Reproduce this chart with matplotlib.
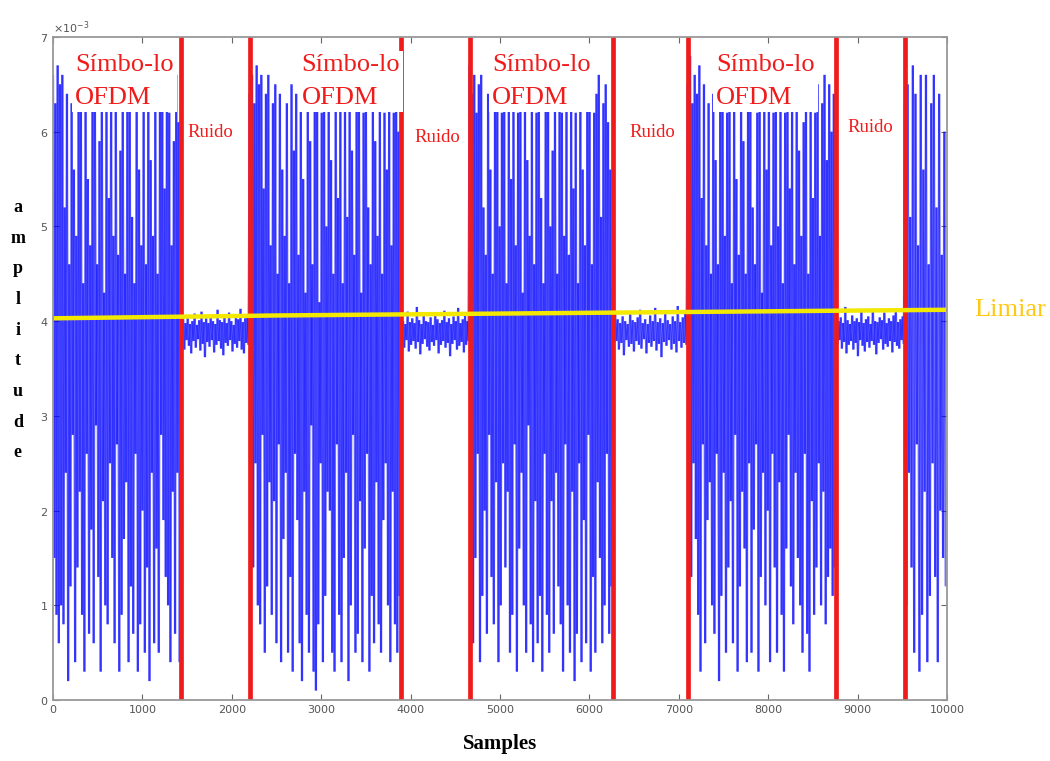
import numpy as np
import matplotlib
matplotlib.use("Agg")
import matplotlib.pyplot as plt
from matplotlib.collections import LineCollection
from matplotlib.ticker import ScalarFormatter, MultipleLocator

# segment limits (samples) - red lines sit on the inner ones
boundaries = [0, 1430, 2200, 3890, 4660, 6260, 7100, 8760, 9530, 10000]

# values, in units of 1e-3
ofdm1_peaks = [6.6, 6.3, 6.7, 6.5, 6.6, 5.2, 6.4, 4.6, 6.3, 5.6, 4.9, 6.5, 6.3, 4.4, 6.4, 5.5, 4.8, 6.3, 6.5, 4.6,
               5.9, 6.4, 4.3, 6.3, 5.3, 6.5, 4.9, 6.3, 4.7, 5.8, 6.4, 4.5, 6.3, 6.5, 5.1, 4.4, 6.4, 5.6, 4.8, 6.3,
               4.6, 6.5, 5.7, 4.9, 6.3, 4.5, 6.4, 6.3, 5.4, 6.6, 6.2, 4.8, 5.9, 6.6, 6.1]
ofdm1_dips = [1.5, 0.9, 0.6, 1.0, 0.8, 2.4, 0.2, 1.2, 2.8, 0.4, 1.4, 2.2, 0.9, 0.3, 2.6, 0.7, 1.8, 0.6, 2.9, 1.3,
              0.3, 2.1, 1.0, 0.8, 2.5, 1.5, 0.6, 2.7, 0.3, 0.9, 1.7, 2.3, 0.4, 1.2, 0.7, 2.6, 0.3, 0.8, 2.0, 0.5,
              1.4, 0.2, 2.4, 0.6, 1.6, 0.5, 2.8, 1.9, 1.3, 1.0, 0.4, 2.2, 0.7, 2.4, 0.4]
ofdm2_peaks = [6.4, 6.6, 6.3, 6.7, 6.5, 6.6, 5.4, 6.4, 6.6, 4.8, 6.3, 6.5, 4.5, 6.4, 5.6, 4.9, 6.3, 4.4, 6.5, 5.8,
               6.4, 4.7, 6.3, 5.5, 4.3, 6.4, 5.9, 4.6, 6.5, 6.3, 4.2, 6.2, 6.4, 5.0, 6.3, 5.7, 4.5, 6.5, 5.3, 6.4,
               4.4, 6.3, 5.1, 6.4, 5.8, 4.7, 6.3, 6.5, 4.3, 6.2, 6.4, 5.2, 4.6, 6.3, 5.9, 4.9, 6.3, 4.5, 6.2, 5.6,
               6.3, 4.8, 6.2, 6.4, 6.0]
ofdm2_dips = [0.7, 1.4, 2.5, 1.0, 0.8, 2.8, 0.5, 1.2, 2.3, 0.9, 2.1, 0.6, 2.7, 0.4, 1.7, 2.4, 0.5, 1.3, 0.3, 2.6,
              1.9, 0.6, 0.2, 2.2, 0.9, 0.5, 2.9, 0.3, 0.1, 0.8, 2.5, 0.4, 1.1, 2.2, 2.0, 0.5, 0.3, 2.7, 0.9, 0.4,
              1.5, 2.4, 0.2, 1.0, 2.8, 0.5, 0.7, 2.1, 0.4, 1.6, 2.6, 0.3, 1.1, 0.6, 2.3, 0.8, 0.5, 1.9, 2.5, 1.0,
              0.4, 2.2, 0.8, 0.5, 1.1]
ofdm3_peaks = [6.7, 6.4, 6.6, 6.2, 6.5, 6.6, 5.2, 4.7, 6.4, 5.6, 4.5, 6.3, 6.5, 5.0, 6.2, 6.4, 4.4, 6.3, 5.5, 6.5,
               4.8, 6.2, 6.4, 4.3, 6.3, 5.7, 4.9, 6.4, 4.6, 6.2, 6.5, 5.3, 4.4, 6.3, 6.4, 5.0, 5.8, 6.3, 4.5, 6.5,
               6.2, 4.9, 6.4, 4.7, 6.3, 5.4, 6.2, 4.4, 6.4, 5.6, 4.8, 6.3, 6.5, 4.6, 6.2, 6.4, 6.6, 5.1, 6.3, 6.5,
               6.1, 5.6]
ofdm3_dips = [1.2, 0.6, 1.5, 2.6, 0.4, 1.1, 2.0, 0.7, 2.8, 1.3, 0.8, 2.3, 0.4, 1.0, 2.5, 1.4, 2.2, 0.5, 0.9, 2.7,
              0.3, 1.6, 2.4, 1.0, 0.5, 2.9, 0.8, 0.4, 2.1, 0.6, 1.1, 0.3, 2.6, 0.9, 0.5, 2.1, 0.7, 2.4, 1.2, 0.8,
              0.3, 2.7, 1.0, 0.5, 2.2, 0.2, 0.7, 2.5, 0.4, 1.9, 0.6, 2.8, 0.3, 1.3, 0.5, 2.3, 1.5, 0.6, 1.0, 2.6,
              0.7, 1.2]
ofdm4_peaks = [6.5, 6.8, 6.3, 6.6, 6.4, 6.7, 5.3, 6.5, 4.8, 6.3, 4.5, 6.4, 5.7, 4.6, 6.3, 6.5, 4.9, 6.2, 6.4, 4.4,
               6.3, 5.5, 4.7, 6.4, 5.9, 4.5, 6.5, 6.3, 5.2, 4.6, 6.2, 6.4, 4.3, 6.3, 5.6, 6.5, 4.8, 6.2, 6.4, 5.0,
               6.3, 4.4, 6.2, 6.5, 5.4, 6.3, 4.6, 6.4, 5.8, 4.9, 6.1, 6.4, 4.5, 6.3, 5.3, 6.2, 6.5, 4.9, 6.3, 6.6,
               5.7, 6.5, 6.0, 6.4]
ofdm4_dips = [0.8, 1.3, 2.5, 1.7, 0.9, 0.3, 2.7, 0.6, 1.9, 2.3, 1.0, 0.7, 2.6, 0.2, 1.1, 2.4, 0.5, 1.4, 2.1, 0.6,
              2.8, 0.3, 1.2, 2.2, 1.6, 0.4, 2.5, 0.5, 1.8, 2.7, 0.3, 1.3, 2.4, 1.0, 2.0, 0.4, 2.6, 1.4, 0.5, 2.3,
              0.9, 0.3, 1.6, 2.8, 1.2, 0.8, 2.4, 1.5, 1.0, 0.5, 2.6, 0.7, 0.3, 2.1, 0.9, 1.4, 2.5, 1.0, 2.2, 0.8,
              1.3, 1.6, 1.1, 1.4]
ofdm5_peaks = [6.3, 6.5, 5.1, 6.7, 6.4, 4.8, 6.6, 5.6, 6.6, 4.6, 6.3, 6.6, 5.2, 6.4, 4.7, 6.0]
ofdm5_dips = [1.0, 2.4, 1.4, 0.5, 2.7, 0.3, 0.9, 2.2, 0.4, 1.1, 2.5, 1.3, 0.4, 2.0, 1.5, 1.2]

noise1_hi = [4.17, 4.02, 3.98, 4.05, 3.97, 4.00, 4.08, 3.96, 4.01, 4.10, 3.99, 4.03, 3.98, 4.06, 4.00,
             3.97, 4.12, 4.01, 3.99, 4.04, 3.98, 4.09, 4.00, 3.96, 4.05, 4.02, 4.13, 3.99, 4.03, 4.07]
noise1_lo = [3.78, 3.70, 3.80, 3.74, 3.66, 3.79, 3.72, 3.81, 3.69, 3.76, 3.62, 3.78, 3.73, 3.80, 3.67,
             3.75, 3.79, 3.71, 3.64, 3.77, 3.74, 3.80, 3.68, 3.76, 3.72, 3.79, 3.70, 3.66, 3.77, 3.75]
noise2_hi = [4.05, 4.00, 3.97, 4.10, 3.99, 4.03, 3.98, 4.15, 4.01, 3.97, 4.06, 4.00, 3.99, 4.04, 3.96,
             4.08, 4.02, 3.98, 4.01, 4.11, 3.99, 4.03, 3.97, 4.05, 4.00, 4.14, 3.98, 4.02, 4.06, 4.00]
noise2_lo = [3.77, 3.72, 3.80, 3.68, 3.75, 3.79, 3.71, 3.78, 3.65, 3.76, 3.81, 3.73, 3.69, 3.78, 3.74,
             3.80, 3.66, 3.75, 3.79, 3.72, 3.77, 3.63, 3.76, 3.80, 3.70, 3.74, 3.78, 3.67, 3.75, 3.79]
noise3_hi = [4.35, 4.10, 4.02, 3.98, 4.05, 4.00, 3.97, 4.09, 4.01, 3.99, 4.04, 4.12, 3.98, 4.02, 3.97,
             4.06, 4.00, 4.14, 3.99, 4.03, 3.98, 4.08, 4.01, 3.97, 4.05, 4.00, 4.16, 3.99, 4.04, 4.10]
noise3_lo = [3.74, 3.79, 3.70, 3.77, 3.64, 3.80, 3.73, 3.76, 3.68, 3.79, 3.75, 3.71, 3.81, 3.66, 3.77,
             3.73, 3.79, 3.69, 3.76, 3.62, 3.78, 3.74, 3.80, 3.70, 3.76, 3.67, 3.79, 3.72, 3.77, 3.75]
noise4_hi = [4.08, 4.00, 4.04, 3.98, 4.15, 4.01, 3.97, 4.06, 4.00, 4.03, 3.99, 4.10, 3.98, 4.02, 4.05,
             3.97, 4.13, 4.00, 3.99, 4.04, 4.01, 4.09, 3.98, 4.03, 4.00, 4.06, 4.12, 3.99, 4.02, 4.05]
noise4_lo = [3.76, 3.80, 3.71, 3.78, 3.66, 3.75, 3.79, 3.70, 3.77, 3.63, 3.80, 3.74, 3.68, 3.78, 3.72,
             3.79, 3.75, 3.65, 3.77, 3.81, 3.70, 3.76, 3.73, 3.79, 3.67, 3.78, 3.74, 3.71, 3.80, 3.76]

# threshold (Limiar), slowly rising
limiar_x = [0, 2500, 5000, 7500, 10000]
limiar_y = [4.03, 4.06, 4.08, 4.10, 4.12]

SCALE = 1e-3

segments = [(ofdm1_peaks, ofdm1_dips), (noise1_hi, noise1_lo),
            (ofdm2_peaks, ofdm2_dips), (noise2_hi, noise2_lo),
            (ofdm3_peaks, ofdm3_dips), (noise3_hi, noise3_lo),
            (ofdm4_peaks, ofdm4_dips), (noise4_hi, noise4_lo),
            (ofdm5_peaks, ofdm5_dips)]

xs, ys = [], []
for i, (hi, lo) in enumerate(segments):
    vals = np.empty(2 * len(hi))
    vals[0::2] = hi
    vals[1::2] = lo
    xs.append(np.linspace(boundaries[i], boundaries[i + 1], len(vals), endpoint=False))
    ys.append(vals)
samples = np.concatenate(xs)
amplitude = np.concatenate(ys) * SCALE

fig = plt.figure(figsize=(10.5, 7.61), dpi=100)
ax = fig.add_axes([0.0505, 0.0801, 0.8514, 0.8713])

# separate pieces so overlapping strokes get darker, like the original
pts = np.column_stack([samples, amplitude])
pieces = np.stack([pts[:-1], pts[1:]], axis=1)
ax.add_collection(LineCollection(pieces, colors="#0000ff", alpha=0.55,
                                 linewidths=1.6, capstyle="butt", zorder=2))

for b in boundaries[1:-1]:
    ax.axvline(b, color="#f01c1c", lw=3.4, zorder=2.1)
ax.plot(limiar_x, np.array(limiar_y) * SCALE, color="#f2e800", lw=3.2, zorder=2.3)

ax.set_xlim(0, 10000)
ax.set_ylim(0, 7 * SCALE)
ax.xaxis.set_major_locator(MultipleLocator(1000))
ax.yaxis.set_major_locator(MultipleLocator(1 * SCALE))
fmt = ScalarFormatter(useMathText=True)
fmt.set_powerlimits((-2, 2))
ax.yaxis.set_major_formatter(fmt)
ax.yaxis.get_offset_text().set_fontsize(8)
ax.yaxis.get_offset_text().set_color("#555555")

ax.tick_params(direction="in", top=True, right=True, length=4, width=0.8,
               color="#666666", labelcolor="#555555", labelsize=8)
for s in ax.spines.values():
    s.set_color("#999999")
    s.set_linewidth(1.3)

serif = ["Liberation Serif"]
red = "#f01c1c"

# OFDM symbol labels, white box hides the signal under them
ofdm_label_x = [250, 2780, 4910, 7420]
for xl in ofdm_label_x:
    ax.text(xl, 0.975, "Símbo-lo\nOFDM", transform=ax.get_xaxis_transform(),
            fontfamily=serif, fontsize=19, color=red, ha="left", va="top",
            linespacing=1.65, zorder=2.2,
            bbox=dict(facecolor="white", edgecolor="none", pad=2))

ruido_x = [1756, 4295, 6700, 9139]
ruido_y = [5.99, 5.94, 5.99, 6.04]
for xr, yr in zip(ruido_x, ruido_y):
    ax.text(xr, yr * SCALE, "Ruido", fontfamily=serif, fontsize=13.5, color=red,
            ha="center", va="center", zorder=2.2)

ax.text(10300, limiar_y[-1] * SCALE, "Limiar", fontfamily=serif, fontsize=19,
        color="#ffc814", ha="left", va="center", clip_on=False)

ax.set_xlabel("Samples", fontfamily=serif, fontsize=15, fontweight="bold", labelpad=14)
fig.text(0.017, 0.566, "\n".join("amplitude"), fontfamily=serif, fontsize=13,
         fontweight="bold", ha="center", va="center", linespacing=2.05)

fig.savefig("out.png", dpi=100)
